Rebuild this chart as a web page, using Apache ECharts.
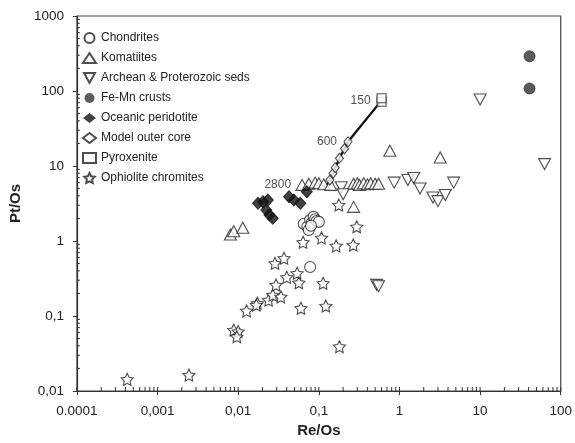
<!DOCTYPE html>
<html>
<head>
<meta charset="utf-8">
<script src="https://cdn.jsdelivr.net/npm/echarts@6/dist/echarts.min.js"></script>
<style>
html,body{margin:0;padding:0;background:#fff;}
#chart{width:575px;height:443px;}
</style>
</head>
<body>
<div id="chart"></div>
<script>
// ---- data ----
const xTickValues = [0.0001, 0.001, 0.01, 0.1, 1, 10, 100];
const xTickLabels = ["0.0001", "0,001", "0,01", "0,1", "1", "10", "100"];
const yTickValues = [0.01, 0.1, 1, 10, 100, 1000];
const yTickLabels = ["0,01", "0,1", "1", "10", "100", "1000"];

const chondrites = [[0.065,1.7],[0.072,1.55],[0.075,1.4],[0.078,1.9],[0.082,1.75],[0.086,2.1],[0.09,1.95],[0.094,1.85],[0.1,1.8],[0.08,1.6],[0.078,0.45]];
const komatiites = [[0.008,1.22],[0.0088,1.35],[0.0114,1.5],[0.062,5.6],[0.075,5.8],[0.09,6.0],[0.1,5.9],[0.115,5.7],[0.14,5.6],[0.27,5.8],[0.3,5.9],[0.32,5.6],[0.36,5.9],[0.4,5.7],[0.44,5.9],[0.5,5.8],[0.55,5.8],[0.27,2.85],[0.76,16],[3.2,13]];
const seds = [[10,77],[63,10.6],[0.86,6.0],[1.27,6.5],[1.5,6.9],[1.8,5.0],[2.6,3.8],[3.0,3.4],[3.7,4.1],[4.7,6.0],[0.19,5.2],[0.2,4.2],[0.52,0.26],[0.55,0.25]];
const feMnCrusts = [[41,290],[41,108]];
const oceanicPeridotite = [[0.0176,3.18],[0.0203,3.34],[0.0233,3.52],[0.0223,2.59],[0.0244,2.22],[0.0268,2.01],[0.0427,3.9],[0.049,3.52],[0.059,3.18],[0.071,4.54]];
const modelOuterCore = [[0.137,6.5],[0.15,8.0],[0.16,9.5],[0.18,12.7],[0.208,17],[0.23,21]];
const coreCurve = [[0.125,5.5],[0.137,6.5],[0.15,8.0],[0.18,12.7],[0.208,17],[0.23,21],[0.6,75]];
const pyroxenite = [[0.6,72],[0.6,80]];
const ophioliteChromites = [[0.00042,0.0143],[0.00245,0.0163],[0.0088,0.065],[0.01,0.062],[0.0096,0.053],[0.0127,0.117],[0.0173,0.148],[0.0168,0.14],[0.0238,0.163],[0.0268,0.19],[0.0338,0.18],[0.0294,0.259],[0.04,0.328],[0.0538,0.371],[0.0565,0.278],[0.0286,0.504],[0.037,0.588],[0.0637,0.96],[0.06,0.127],[0.108,1.1],[0.164,0.86],[0.267,0.885],[0.113,0.273],[0.122,0.136],[0.18,0.039],[0.177,3.02],[0.295,1.55]];
const annotations = [[0.6,75,"150"],[0.23,21,"600"],[0.062,5.6,"2800"]];

// ---- axis decoration (minor log ticks) ----
const xMinor = [], yMinor = [];
for (let k = -4; k < 2; k++) for (let m = 2; m <= 9; m++) xMinor.push([m * Math.pow(10, k), 0.01, 4]);
xTickValues.forEach(v => xMinor.push([v, 0.01, 4]));
for (let k = -2; k < 3; k++) for (let m = 2; m <= 9; m++) yMinor.push([0.0001, m * Math.pow(10, k), 3]);

function fmt(values, labels) {
  return function (v) {
    for (let i = 0; i < values.length; i++) {
      if (Math.abs(Math.log10(values[i]) - Math.log10(v)) < 1e-6) return labels[i];
    }
    return '';
  };
}

const INK = '#222';
const openStyle = { color: '#fff', borderColor: INK, borderWidth: 1.1 };
const starPath = 'path://M0,-10L2.94,-4.05L9.51,-3.09L4.76,1.55L5.88,8.09L0,5L-5.88,8.09L-4.76,1.55L-9.51,-3.09L-2.94,-4.05Z';
const downTri = 'path://M0,0L12,0L6,11Z';

const chart = echarts.init(document.getElementById('chart'), null, { renderer: 'canvas' });
chart.setOption({
  animation: false,
  backgroundColor: '#fff',
  textStyle: { fontFamily: 'Liberation Sans, Arial, sans-serif', color: INK },
  grid: { left: 68, right: 12, top: 16, bottom: 52, show: true, borderColor: '#444', borderWidth: 1.2, backgroundColor: 'transparent' },
  legend: {
    orient: 'vertical', left: 82, top: 32, padding: 0, itemWidth: 13, itemHeight: 10, itemGap: 8,
    textStyle: { fontSize: 12, color: INK, fontFamily: 'Liberation Sans, Arial, sans-serif' },
    data: ['Chondrites', 'Komatiites', { name: 'Archean & Proterozoic seds', icon: downTri }, 'Fe-Mn crusts', 'Oceanic peridotite', 'Model outer core', 'Pyroxenite', 'Ophiolite chromites']
  },
  xAxis: {
    type: 'log', logBase: 10, min: 0.0001, max: 100, splitNumber: 6,
    name: 'Re/Os', nameLocation: 'middle', nameGap: 32,
    nameTextStyle: { fontSize: 15, fontWeight: 'bold', color: INK },
    axisLine: { lineStyle: { color: '#333', width: 1.2 } },
    axisTick: { show: true, inside: false, length: 4, lineStyle: { color: '#333' } },
    axisLabel: { fontSize: 13.5, color: INK, margin: 13, formatter: fmt(xTickValues, xTickLabels) },
    splitLine: { show: false }
  },
  yAxis: {
    type: 'log', logBase: 10, min: 0.01, max: 1000, splitNumber: 5,
    name: 'Pt/Os', nameLocation: 'middle', nameGap: 42, nameRotate: 90,
    nameTextStyle: { fontSize: 15, fontWeight: 'bold', color: INK },
    axisLine: { lineStyle: { color: '#333', width: 1.2 } },
    axisTick: { show: true, inside: false, length: 4, lineStyle: { color: '#333' } },
    axisLabel: { fontSize: 13.5, color: INK, margin: 13, formatter: fmt(yTickValues, yTickLabels) },
    splitLine: { show: false }
  },
  series: [
    {
      type: 'custom', name: 'xticks', silent: true, data: xMinor, z: 1,
      renderItem: function (params, api) {
        const p = api.coord([api.value(0), api.value(1)]);
        const len = api.value(2);
        return { type: 'line', shape: { x1: p[0], y1: p[1], x2: p[0], y2: p[1] - len }, style: { stroke: '#333', lineWidth: 1 } };
      }
    },
    {
      type: 'custom', name: 'yticks', silent: true, data: yMinor, z: 1,
      renderItem: function (params, api) {
        const p = api.coord([api.value(0), api.value(1)]);
        const len = api.value(2);
        return { type: 'line', shape: { x1: p[0], y1: p[1], x2: p[0] + len, y2: p[1] }, style: { stroke: '#333', lineWidth: 1 } };
      }
    },
    {
      type: 'line', name: 'curve', data: coreCurve, symbol: 'none', z: 3,
      lineStyle: { color: '#111', width: 2.3 }, silent: true
    },
    { type: 'scatter', name: 'Ophiolite chromites', data: ophioliteChromites, symbol: starPath, symbolSize: 12, itemStyle: openStyle, z: 4 },
    { type: 'scatter', name: 'Chondrites', data: chondrites, symbol: 'circle', symbolSize: 11, itemStyle: openStyle, z: 5 },
    { type: 'scatter', name: 'Komatiites', data: komatiites, symbol: 'triangle', symbolSize: [12, 11], itemStyle: openStyle, z: 5 },
    { type: 'scatter', name: 'Archean & Proterozoic seds', data: seds, symbol: 'triangle', symbolRotate: 180, symbolSize: [12, 11], itemStyle: openStyle, z: 5 },
    { type: 'scatter', name: 'Fe-Mn crusts', data: feMnCrusts, symbol: 'circle', symbolSize: 11, itemStyle: { color: '#333', borderColor: '#333' }, z: 5 },
    { type: 'scatter', name: 'Oceanic peridotite', data: oceanicPeridotite, symbol: 'diamond', symbolSize: [11, 12], itemStyle: { color: '#111', borderColor: '#111' }, z: 5 },
    { type: 'scatter', name: 'Model outer core', data: modelOuterCore, symbol: 'diamond', symbolSize: [8, 10], itemStyle: openStyle, z: 6 },
    { type: 'scatter', name: 'Pyroxenite', data: pyroxenite, symbol: 'rect', symbolSize: 9, itemStyle: openStyle, z: 6 },
    {
      type: 'scatter', name: 'labels', data: annotations, symbolSize: 0, silent: true, z: 7,
      label: { show: true, position: 'left', distance: 11, fontSize: 12, color: INK, formatter: function (p) { return p.value[2]; } }
    }
  ]
});
</script>
</body>
</html>
